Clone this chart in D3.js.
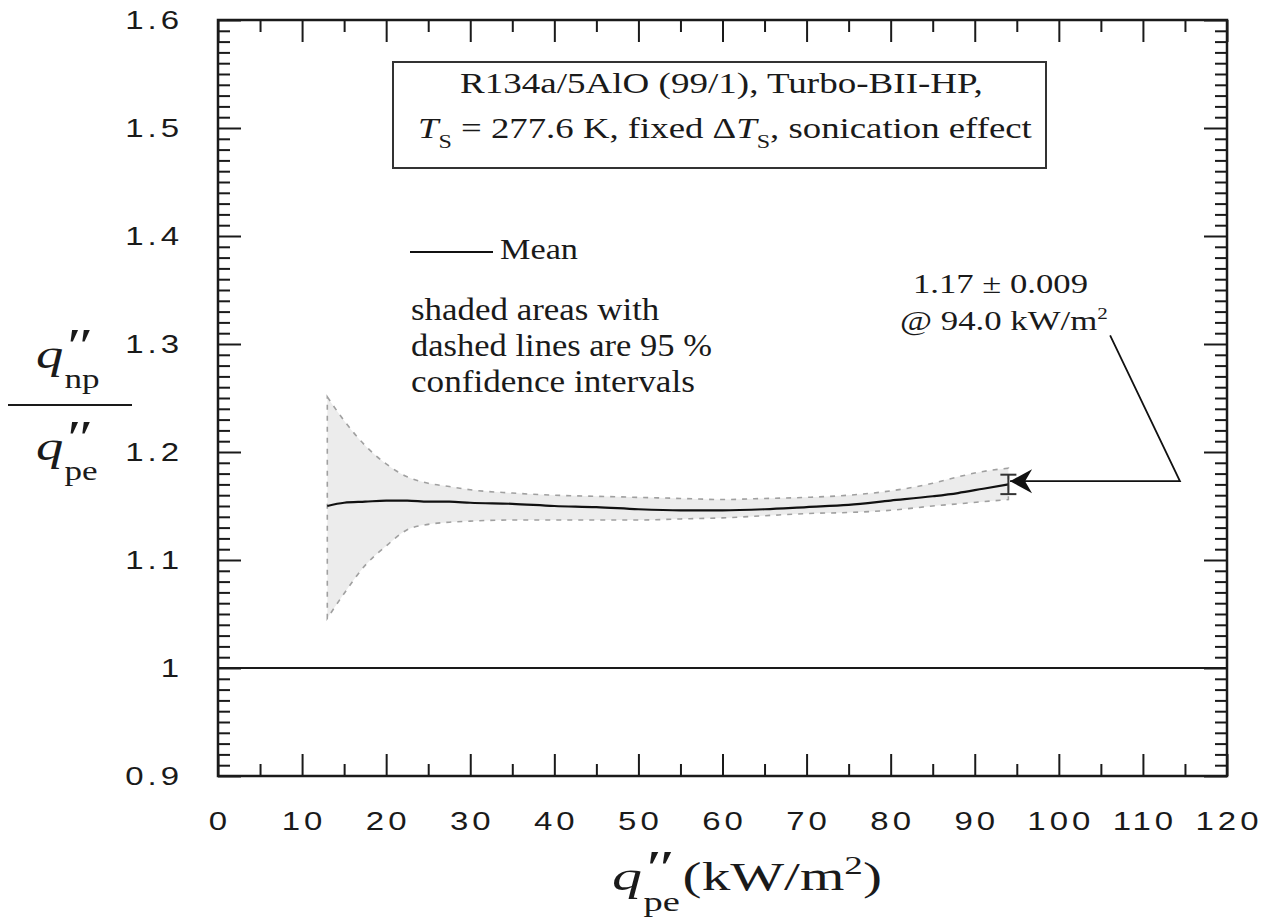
<!DOCTYPE html>
<html>
<head>
<meta charset="utf-8">
<script src="https://cdn.jsdelivr.net/npm/d3@7/dist/d3.min.js"></script>
<style>
  body { margin: 0; background: #fff; }
  svg { display: block; }
</style>
</head>
<body>
<svg id="chart" width="1275" height="924"></svg>
<script>
// ---- data: heat-flux ratio q''np / q''pe vs. q''pe (kW/m^2) ----
const heatFlux  = [13, 15, 17.5, 20, 22.5, 25, 27.5, 30, 35, 40, 45, 50, 55, 60, 65, 70, 75, 80, 85, 88, 91, 94];
const meanRatio = [1.150, 1.153, 1.154, 1.155, 1.155, 1.154, 1.154, 1.153, 1.152, 1.150, 1.149, 1.147, 1.146, 1.146, 1.147, 1.149, 1.151, 1.155, 1.159, 1.162, 1.166, 1.170];
const upperCI   = [1.251, 1.229, 1.206, 1.189, 1.177, 1.171, 1.168, 1.165, 1.162, 1.160, 1.159, 1.158, 1.157, 1.156, 1.157, 1.158, 1.160, 1.164, 1.171, 1.177, 1.182, 1.185];
const lowerCI   = [1.046, 1.069, 1.095, 1.113, 1.128, 1.133, 1.135, 1.136, 1.137, 1.137, 1.137, 1.137, 1.138, 1.139, 1.141, 1.143, 1.144, 1.146, 1.150, 1.152, 1.154, 1.156];

// highlighted end point: 1.17 ± 0.009 @ 94.0 kW/m^2
const endFlux = 94.0;
const endValue = 1.17;
const endError = 0.009;
// leader line from the label to the end point (data coordinates)
const leaderPoints = [[106.1, 1.308], [114.4, 1.173], [94.2, 1.173]];

// axis ticks
const xTickValues = [0, 10, 20, 30, 40, 50, 60, 70, 80, 90, 100, 110, 120];
const xTickLabels = ["0", "10", "20", "30", "40", "50", "60", "70", "80", "90", "100", "110", "120"];
const yTickValues = [0.9, 1.0, 1.1, 1.2, 1.3, 1.4, 1.5, 1.6];
const yTickLabels = ["0.9", "1", "1.1", "1.2", "1.3", "1.4", "1.5", "1.6"];
const referenceRatio = 1.0;

const svg = d3.select("#chart");
const x = d3.scaleLinear().domain([0, 120]).range([218, 1227]);
const y = d3.scaleLinear().domain([0.9, 1.6]).range([776, 20]);

const SERIF = "'Liberation Serif', 'Times New Roman', serif";
const SANS = "'Liberation Sans', Arial, sans-serif";
const INK = "#1a1a1a";

// stretch a text element horizontally so its box spans [left, right]
function fitText(sel, left, right) {
  const bb = sel.node().getBBox();
  const sx = (right - left) / bb.width;
  sel.attr("transform", `translate(${left - bb.x * sx},0) scale(${sx},1)`);
}

// ---- ticks (inward on all four sides) ----
const xMinor = d3.range(5, 120, 10);
const yMinor = d3.range(91, 160).filter(v => v % 10 !== 0).map(v => v / 100);

function drawAxis(gen, tx, ty) {
  const g = svg.append("g").attr("transform", `translate(${tx},${ty})`).call(gen);
  g.select(".domain").remove();
  g.selectAll(".tick line").attr("stroke", INK).attr("stroke-width", 2);
  g.selectAll(".tick text").remove();
}
drawAxis(d3.axisBottom(x).tickValues(xTickValues).tickSize(-22).tickFormat(""), 0, 776);
drawAxis(d3.axisBottom(x).tickValues(xMinor).tickSize(-12).tickFormat(""), 0, 776);
drawAxis(d3.axisTop(x).tickValues(xTickValues).tickSize(-22).tickFormat(""), 0, 20);
drawAxis(d3.axisTop(x).tickValues(xMinor).tickSize(-12).tickFormat(""), 0, 20);
drawAxis(d3.axisLeft(y).tickValues(yTickValues).tickSize(-23).tickFormat(""), 218, 0);
drawAxis(d3.axisLeft(y).tickValues(yMinor).tickSize(-12).tickFormat(""), 218, 0);
drawAxis(d3.axisRight(y).tickValues(yTickValues).tickSize(-23).tickFormat(""), 1227, 0);
drawAxis(d3.axisRight(y).tickValues(yMinor).tickSize(-12).tickFormat(""), 1227, 0);

// frame
svg.append("rect")
  .attr("x", x(0)).attr("y", y(1.6))
  .attr("width", x(120) - x(0)).attr("height", y(0.9) - y(1.6))
  .attr("fill", "none").attr("stroke", INK).attr("stroke-width", 2.5);

// tick labels
const LS = 3, TSX = 1.32;
svg.append("g").selectAll("text").data(xTickValues).join("text")
  .attr("transform", (d) => `translate(${x(d)},830) scale(${TSX},1)`)
  .attr("text-anchor", "middle").attr("dx", LS / 2)
  .attr("font-family", SANS).attr("font-size", 25).attr("letter-spacing", LS)
  .attr("fill", INK)
  .text((d, i) => xTickLabels[i]);

svg.append("g").selectAll("text").data(yTickValues).join("text")
  .attr("transform", (d) => `translate(179,${y(d) + 9}) scale(${TSX},1)`)
  .attr("text-anchor", "end").attr("dx", LS)
  .attr("font-family", SANS).attr("font-size", 25).attr("letter-spacing", LS)
  .attr("fill", INK)
  .text((d, i) => yTickLabels[i]);

// ---- reference line at ratio = 1 ----
svg.append("line")
  .attr("x1", x(0)).attr("x2", x(120))
  .attr("y1", y(referenceRatio)).attr("y2", y(referenceRatio))
  .attr("stroke", INK).attr("stroke-width", 1.8);

// ---- confidence band ----
const band = d3.area()
  .x((d, i) => x(heatFlux[i]))
  .y0((d, i) => y(lowerCI[i]))
  .y1((d, i) => y(upperCI[i]))
  .curve(d3.curveMonotoneX);

svg.append("path").datum(heatFlux)
  .attr("d", band)
  .attr("fill", "#ececec")
  .attr("stroke", "#a0a0a0").attr("stroke-width", 1.6)
  .attr("stroke-dasharray", "5,6");

// ---- mean curve ----
const meanLine = d3.line()
  .x((d, i) => x(heatFlux[i]))
  .y((d, i) => y(meanRatio[i]))
  .curve(d3.curveMonotoneX);

svg.append("path").datum(heatFlux)
  .attr("d", meanLine)
  .attr("fill", "none").attr("stroke", "#111").attr("stroke-width", 2.2);

// ---- end-point error bar ----
const eb = svg.append("g").attr("stroke", "#333").attr("stroke-width", 2);
eb.append("line").attr("x1", x(endFlux)).attr("x2", x(endFlux))
  .attr("y1", y(endValue - endError)).attr("y2", y(endValue + endError));
[endValue - endError, endValue + endError].forEach(v => {
  eb.append("line").attr("x1", x(endFlux) - 8).attr("x2", x(endFlux) + 8)
    .attr("y1", y(v)).attr("y2", y(v));
});

// leader line with arrow head
svg.append("path")
  .attr("d", d3.line().x(d => x(d[0])).y(d => y(d[1]))(leaderPoints))
  .attr("fill", "none").attr("stroke", "#111").attr("stroke-width", 1.8);
const tip = leaderPoints[leaderPoints.length - 1];
svg.append("path")
  .attr("transform", `translate(${x(tip[0])},${y(tip[1])})`)
  .attr("d", "M0,0 L22,-12 L15,0 L22,12 Z")
  .attr("fill", "#111");

// end-point label
const lab1 = svg.append("text").attr("y", 293)
  .attr("font-family", SERIF).attr("font-size", 28).attr("fill", INK)
  .text(`${endValue.toFixed(2)} ± ${endError.toFixed(3)}`);
fitText(lab1, 913, 1088);
const lab2 = svg.append("text").attr("y", 330)
  .attr("font-family", SERIF).attr("font-size", 28).attr("fill", INK);
lab2.append("tspan").text(`@ ${endFlux.toFixed(1)} kW/m`);
lab2.append("tspan").attr("font-size", 17).attr("dy", -11).text("2");
fitText(lab2, 900, 1108);

// ---- legend box ----
svg.append("rect")
  .attr("x", 393).attr("y", 62).attr("width", 653).attr("height", 106)
  .attr("fill", "#fff").attr("stroke", "#333").attr("stroke-width", 2);
const l1 = svg.append("text").attr("y", 93)
  .attr("font-family", SERIF).attr("font-size", 29).attr("fill", INK)
  .text("R134a/5AlO (99/1), Turbo-BII-HP,");
fitText(l1, 460, 983);
const l2 = svg.append("text").attr("y", 138)
  .attr("font-family", SERIF).attr("font-size", 29).attr("fill", INK);
l2.append("tspan").attr("font-style", "italic").text("T");
l2.append("tspan").attr("font-size", 19).attr("dy", 10).text("S");
l2.append("tspan").attr("dy", -10).text(" = 277.6 K, fixed Δ");
l2.append("tspan").attr("font-style", "italic").text("T");
l2.append("tspan").attr("font-size", 19).attr("dy", 10).text("S");
l2.append("tspan").attr("dy", -10).text(", sonication effect");
fitText(l2, 418, 1032);

// mean legend
svg.append("line").attr("x1", 410).attr("x2", 493).attr("y1", 252).attr("y2", 252)
  .attr("stroke", "#111").attr("stroke-width", 2);
const lm = svg.append("text").attr("y", 259)
  .attr("font-family", SERIF).attr("font-size", 30).attr("fill", INK).text("Mean");
fitText(lm, 500, 578);

const note = ["shaded areas with", "dashed lines are 95 %", "confidence intervals"];
const noteRight = [660, 712, 695];
note.forEach((t, i) => {
  const n = svg.append("text").attr("y", 320 + i * 36)
    .attr("font-family", SERIF).attr("font-size", 31).attr("fill", INK).text(t);
  fitText(n, 411, noteRight[i]);
});

// ---- axis titles ----
// x: q''pe (kW/m^2), one text with italic q, double prime and subscript
const xt = svg.append("text").attr("y", 890)
  .attr("font-family", SERIF).attr("fill", INK).attr("font-size", 40);
xt.append("tspan").attr("font-style", "italic").attr("font-size", 42).text("q");
xt.append("tspan").attr("font-style", "italic").attr("font-size", 48).attr("dy", -6).attr("dx", 0).text("″");
xt.append("tspan").attr("font-size", 27).attr("dy", 27).attr("dx", -19).text("pe");
xt.append("tspan").attr("dy", -21).attr("dx", 2).text("(kW/m");
xt.append("tspan").attr("font-size", 26).attr("dy", -16).text("2");
xt.append("tspan").attr("dy", 16).text(")");
fitText(xt, 612, 882);

// y: q''np / q''pe as a stacked fraction
const yt = svg.append("g").attr("font-family", SERIF).attr("fill", INK);
yt.append("line").attr("x1", 8).attr("x2", 132).attr("y1", 405).attr("y2", 405)
  .attr("stroke", INK).attr("stroke-width", 2.2);
function fracPart(base, sub) {
  const t = yt.append("text").attr("y", base)
    .attr("transform", "translate(36,0) scale(1.3,1)");
  t.append("tspan").attr("font-size", 42).attr("font-style", "italic").text("q");
  t.append("tspan").attr("font-size", 48).attr("font-style", "italic").attr("dy", -6).text("″");
  t.append("tspan").attr("font-size", 27).attr("dy", 26).attr("dx", -19).text(sub);
}
fracPart(368, "np");
fracPart(460, "pe");
</script>
</body>
</html>
